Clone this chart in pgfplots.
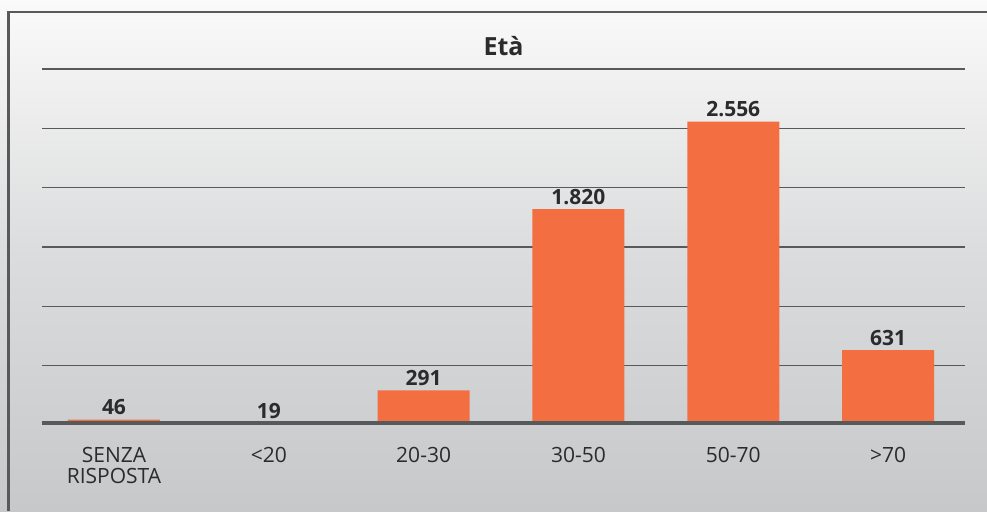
\documentclass[border=0pt]{standalone}
\usepackage{pgfplots}
\pgfplotsset{compat=1.18}
\usepackage{fontspec}
\setmainfont{Open Sans}
\definecolor{barorange}{HTML}{F36F42}
\definecolor{gridgray}{HTML}{58595B}
\definecolor{txt}{HTML}{2B2A2C}
\definecolor{bgtop}{HTML}{FAFAFA}
\definecolor{bgbot}{HTML}{C7C8CA}
\begin{document}
\begin{tikzpicture}[x=1pt,y=1pt]
\shade[top color=bgtop, bottom color=bgbot, middle color=bgbot!60!bgtop] (0,0) rectangle (987,511);
\draw[gridgray, line width=2.5pt] (8.5,0) -- (8.5,499) -- (987,499);
\begin{axis}[
    at={(42pt,86pt)}, anchor=south west,
    scale only axis, width=923pt, height=356pt,
    ybar, bar width=92pt,
    xmin=-0.465, xmax=5.497,
    ymin=0, ymax=3000,
    axis line style={draw=none},
    major tick length=0pt,
    ytick={500,1000,...,3000}, yticklabels={},
    ymajorgrids, grid style={gridgray, line width=1.3pt},
    xtick=data,
    xticklabels={{SENZA\\RISPOSTA},{<20},{20-30},{30-50},{50-70},{>70}},
    xticklabel style={align=center, anchor=north, yshift=-19pt,
        font=\fontsize{21}{20.5}\selectfont, text=txt},
    title={\textbf{Età}},
    title style={font=\fontsize{25}{28}\selectfont, text=txt, yshift=4pt},
    nodes near coords={\pgfmathprintnumber[1000 sep={.}, assume math mode=true]{\pgfplotspointmeta}},
    every node near coord/.append style={font=\bfseries\fontsize{21}{24}\selectfont, text=txt, yshift=1pt},
    point meta=y,
  ]
\addplot[fill=barorange, draw=none] coordinates {(0,46) (1,19) (2,291) (3,1820) (4,2556) (5,631)};
\draw[gridgray, line width=7pt] (rel axis cs:0,0) -- (rel axis cs:1,0);
\end{axis}
\pgfresetboundingbox
\path (0,0) rectangle (987,511);
\end{tikzpicture}
\end{document}
